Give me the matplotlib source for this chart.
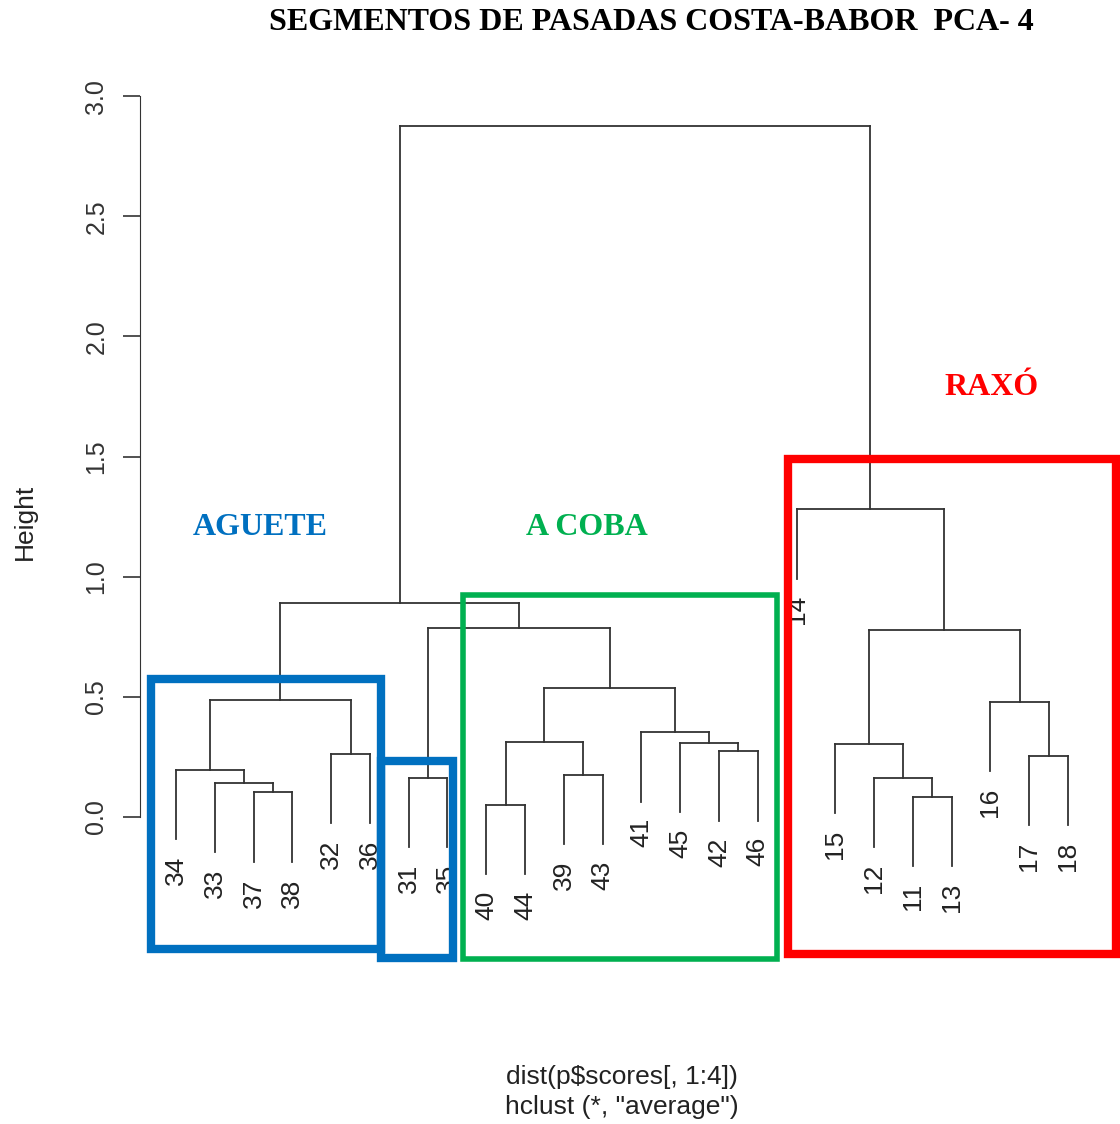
import matplotlib
matplotlib.use("Agg")
import matplotlib.pyplot as plt
from matplotlib.patches import Rectangle

# leaf labels in the order they are drawn
labels = [34, 33, 37, 38, 32, 36, 31, 35, 40, 44, 39, 43, 41, 45, 42, 46,
          14, 15, 12, 11, 13, 16, 17, 18]

# hclust style merge table: negative = leaf label, positive = earlier merge step
merge_a = [-40, -11, -37, -33, -12, -31, -39, -34, -17, -32, -42, -15,
           -45, 1, -41, -16, 8, 14, 12, 6, 17, -14, 21]
merge_b = [-44, -13, -38, 3, 2, -35, -43, 4, -18, -36, -46, 5,
           11, 7, 13, 9, 10, 15, 16, 18, 20, 19, 22]
heights = [0.049, 0.085, 0.102, 0.141, 0.161, 0.164, 0.175, 0.196, 0.254,
           0.261, 0.273, 0.304, 0.309, 0.311, 0.352, 0.480, 0.487, 0.538,
           0.778, 0.787, 0.892, 1.280, 2.876]

groups = ["AGUETE", "A COBA", "RAXÓ"]
group_colors = ["#0070C0", "#00B050", "#FF0000"]

W, H = 1120, 1124
fig = plt.figure(figsize=(W / 100, H / 100), dpi=100)
# plot region roughly as R lays it out
ax = fig.add_axes([140.3 / W, (H - 1000) / H, (1103.7 - 140.3) / W, 960 / H])
ax.set_xlim(1 - 0.04 * 23, len(labels) + 0.04 * 23)
ax.set_ylim((817 - 1000) / 240.3, (817 - 40) / 240.3)

line_kw = dict(color="#333333", lw=1.3, solid_capstyle="projecting")
xpos = {lab: i + 1 for i, lab in enumerate(labels)}
node_x = {}
hang = 0.1 * max(heights)

for k, (a, b, h) in enumerate(zip(merge_a, merge_b, heights), start=1):
    xs = []
    for ref in (a, b):
        if ref < 0:
            x = xpos[-ref]
            low = h - hang
            ax.annotate(str(-ref), (x, low), xytext=(0, -12),
                        textcoords="offset points", rotation=90,
                        ha="center", va="top", fontsize=19,
                        family="Liberation Sans", color="#222222")
        else:
            x = node_x[ref]
            low = heights[ref - 1]
        ax.plot([x, x], [low, h], **line_kw)
        xs.append(x)
    ax.plot(xs, [h, h], **line_kw)
    node_x[k] = sum(xs) / 2

# coloured boxes round the groups
boxes = [(0.355, 6.286, -0.549, 0.574, group_colors[0], 6.0),
         (6.286, 8.143, -0.587, 0.231, group_colors[0], 6.0),
         (8.40, 16.49, -0.591, 0.922, group_colors[1], 4.0),
         (16.77, 25.24, -0.570, 1.49, group_colors[2], 6.0)]
for x0, x1, y0, y1, c, lw in boxes:
    ax.add_patch(Rectangle((x0, y0), x1 - x0, y1 - y0, fill=False,
                           edgecolor=c, lw=lw, clip_on=False, zorder=5))

name_pos = [(3.17, 1.205), (11.6, 1.205), (22.04, 1.787)]
for name, c, (x, y) in zip(groups, group_colors, name_pos):
    ax.text(x, y, name, color=c, fontsize=23, fontweight="bold",
            family="Liberation Serif", ha="center", va="center")

for s in ["top", "right", "bottom"]:
    ax.spines[s].set_visible(False)
ax.spines["left"].set_bounds(0, 3)
ax.spines["left"].set_color("#333333")
ax.set_xticks([])
ax.set_yticks([0, 0.5, 1.0, 1.5, 2.0, 2.5, 3.0])
ax.set_yticklabels(["0.0", "0.5", "1.0", "1.5", "2.0", "2.5", "3.0"])
ax.tick_params(axis="y", length=12, width=1.2, color="#333333", pad=11,
               labelsize=18, labelrotation=90, labelcolor="#333333")
for t in ax.get_yticklabels():
    t.set_family("Liberation Sans")
    t.set_va("center")

fig.text(25 / W, 1 - 522 / H, "Height", rotation=90, ha="center", va="center",
         fontsize=19, family="Liberation Sans", color="#222222")
fig.text(622 / W, 1 - 1077 / H, "dist(p$scores[, 1:4])", ha="center",
         va="center", fontsize=19, family="Liberation Sans", color="#222222")
fig.text(622 / W, 1 - 1107 / H, 'hclust (*, "average")', ha="center",
         va="center", fontsize=19, family="Liberation Sans", color="#222222")
fig.text(651 / W, 1 - 23 / H, "SEGMENTOS DE PASADAS COSTA-BABOR  PCA- 4",
         ha="center", va="center", fontsize=23, fontweight="bold",
         family="Liberation Serif")

fig.savefig("out.png", dpi=100)
